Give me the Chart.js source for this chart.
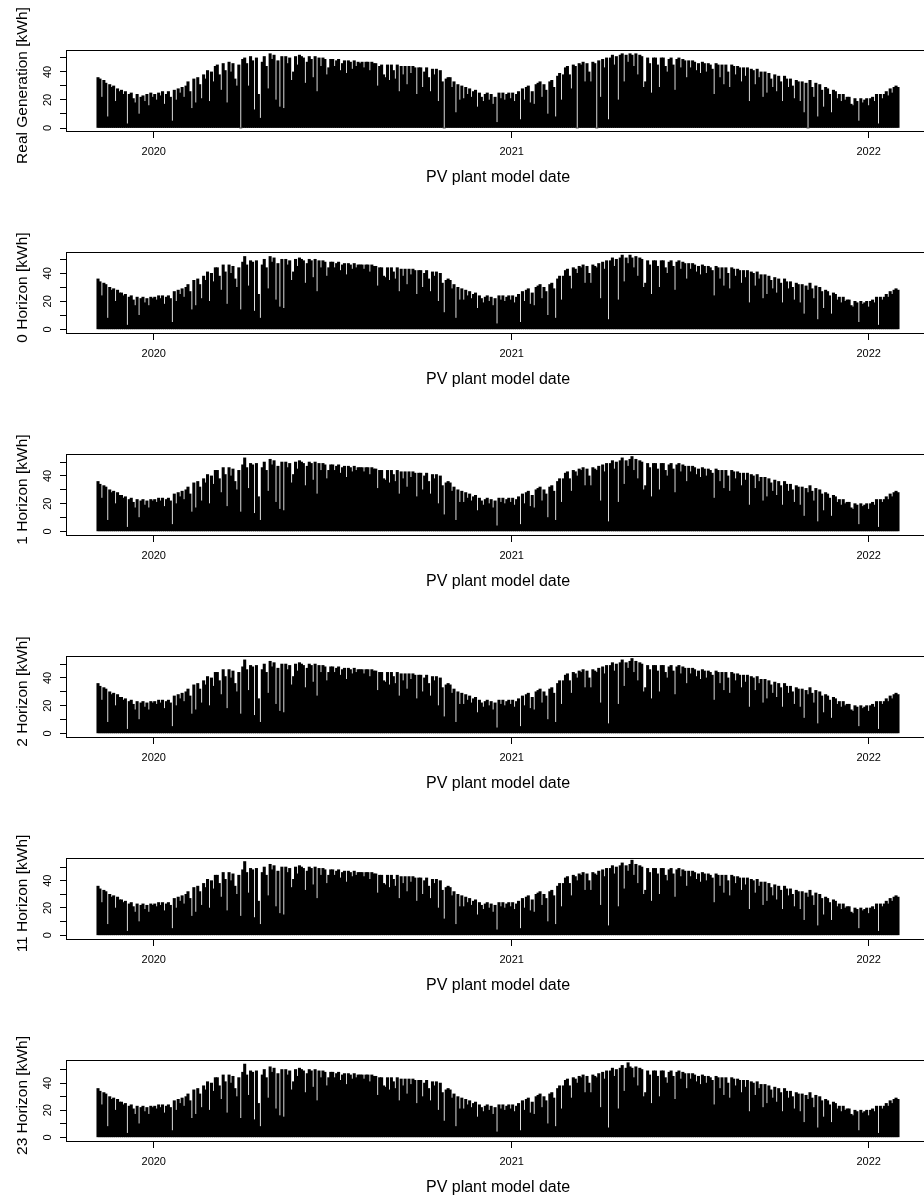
<!DOCTYPE html>
<html>
<head>
<meta charset="utf-8">
<title>PV plant model</title>
<script src="https://cdn.jsdelivr.net/npm/chart.js@4.4.1/dist/chart.umd.min.js"></script>
<style>
  html, body { margin: 0; padding: 0; background: #fff; overflow: hidden; }
  .panel { width: 924px; height: 202px; overflow: hidden; }
  canvas { display: block; }
</style>
</head>
<body>
<div id="panels"></div>
<script>
// one value every 2 days, first one on 2019-11-05 (days counted from 2020-01-01)
const firstDay = -57;
const stepDays = 2;
const yearTicks = [0, 366, 731];
const yearLabels = ['2020', '2021', '2022'];
const yTicks = [0, 10, 20, 30, 40, 50];
const yLabelled = [0, 20, 40];
const xTitle = 'PV plant model date';

// daily energy [kWh], one line ~ one month
const realGeneration = [
  36,35,22,34,32,8,31,29,30,19,28,26,27,24,26,
  3,24,25,21,18,24,10,22,23,19,24,16,25,22,24,
  20,25,23,26,17,24,26,22,5,27,20,28,25,29,22,
  30,33,26,14,35,18,36,31,21,38,35,41,19,40,33,
  44,45,38,27,46,41,18,47,40,46,35,30,45,0,49,
  50,46,30,51,48,13,50,24,7,47,51,44,28,53,49,
  52,20,48,15,51,14,51,46,50,34,40,51,45,52,51,
  50,32,47,51,49,36,51,26,50,44,50,49,38,43,49,
  49,44,48,49,41,46,48,39,48,47,42,48,44,47,46,
  47,43,47,47,41,47,46,46,30,44,45,38,36,45,34,
  45,41,35,45,26,44,38,44,31,44,39,44,43,24,43,
  43,29,40,43,36,26,42,38,42,19,41,33,0,35,36,
  36,29,33,11,31,20,30,21,29,24,28,22,26,27,15,
  25,22,19,24,25,20,24,17,22,4,25,21,25,20,24,
  25,21,25,19,24,26,6,28,20,29,30,18,26,17,31,
  32,33,22,31,27,10,33,34,29,8,37,39,20,38,43,
  44,38,28,45,44,0,46,45,47,33,46,40,33,47,46,
  0,48,22,49,43,50,6,50,52,45,51,20,52,53,33,
  52,47,53,52,44,53,38,52,51,29,33,50,46,25,50,
  50,45,29,50,50,44,40,49,50,45,27,49,50,43,49,
  48,36,48,43,48,47,41,46,39,47,46,40,46,45,42,
  24,46,45,36,45,31,45,40,29,45,44,38,44,43,33,
  43,37,43,19,42,41,31,42,36,40,22,40,25,39,35,
  29,38,26,37,33,19,37,35,29,35,30,21,34,33,19,
  33,11,32,0,34,29,22,32,8,31,27,15,29,28,24,
  11,27,26,21,24,19,24,20,22,22,17,16,21,19,5,
  21,18,20,21,16,21,22,19,24,3,24,21,24,26,23,
  28,25,29,30,29
];

const horizon0 = [
  36,34,24,33,32,8,30,28,29,20,28,26,26,24,25,
  3,23,24,21,17,23,10,22,23,19,22,17,23,22,23,
  21,24,22,24,18,23,24,22,5,27,20,28,25,29,23,
  30,32,27,14,35,17,36,32,22,38,35,41,20,40,34,
  44,44,38,28,46,41,18,46,40,45,36,30,44,14,48,
  52,46,31,49,48,13,49,25,8,46,50,44,29,52,48,
  51,21,47,16,50,15,50,46,49,35,41,50,45,51,50,
  49,33,47,50,49,37,50,27,49,44,49,48,38,44,48,
  48,44,47,48,42,46,47,39,47,46,43,47,44,46,46,
  46,43,46,46,41,46,45,45,31,44,44,38,37,44,35,
  44,41,36,44,27,43,38,43,32,43,39,43,42,25,42,
  42,30,40,42,36,27,41,38,41,20,40,33,12,35,36,
  35,29,32,8,30,21,29,21,28,24,27,22,25,26,15,
  24,22,19,23,24,20,23,17,22,4,24,21,24,20,23,
  24,21,24,19,23,25,5,27,20,28,29,18,26,17,30,
  31,32,22,30,27,10,32,33,29,8,36,38,21,38,42,
  43,38,29,44,43,40,45,44,46,33,45,40,33,46,45,
  44,47,22,48,43,49,7,49,51,45,50,21,51,53,34,
  51,47,53,51,44,52,38,51,50,30,33,49,46,25,49,
  49,45,30,49,49,44,40,48,49,45,28,48,49,43,48,
  47,36,47,43,47,46,41,45,39,46,45,40,45,44,42,
  24,45,44,36,44,31,44,40,29,44,43,38,43,42,33,
  42,37,42,19,41,40,31,41,36,39,22,39,25,38,35,
  29,37,26,36,33,19,36,34,29,34,30,21,33,32,19,
  32,11,31,28,33,29,22,31,7,30,27,15,28,27,24,
  11,26,25,21,23,19,23,20,21,21,17,16,20,19,5,
  20,18,19,20,16,20,21,19,23,3,23,21,23,25,23,
  27,25,28,29,28
];

const horizon1 = [
  36,34,24,33,32,8,30,28,29,20,28,26,26,24,25,
  3,23,24,21,17,23,10,22,23,19,22,17,23,22,23,
  21,24,22,24,18,23,24,22,5,27,20,28,25,29,23,
  30,32,27,14,35,17,36,32,22,38,35,41,20,40,34,
  44,44,38,28,46,41,18,46,40,45,36,30,44,14,48,
  53,46,31,49,48,13,49,25,8,46,50,44,29,52,48,
  51,21,47,16,50,15,50,46,49,35,41,50,45,51,50,
  49,33,47,50,49,37,50,27,49,44,49,48,38,44,48,
  48,44,47,48,42,46,47,39,47,46,43,47,44,46,46,
  46,43,46,46,41,46,45,45,31,44,44,38,37,44,35,
  44,41,36,44,27,43,38,43,32,43,39,43,42,25,42,
  42,30,40,42,36,27,41,38,41,20,40,33,12,35,36,
  35,29,32,8,30,21,29,21,28,24,27,22,25,26,15,
  24,22,19,23,24,20,23,17,22,4,24,21,24,20,23,
  24,21,24,19,23,25,5,27,20,28,29,18,26,17,30,
  31,32,22,30,27,10,32,33,29,8,36,38,21,38,42,
  43,38,29,44,43,40,45,44,46,33,45,40,33,46,45,
  44,47,22,48,43,49,7,49,51,45,50,21,51,53,34,
  51,47,52,54,44,52,38,51,50,30,33,49,46,25,49,
  49,45,30,49,49,44,40,48,49,45,28,48,49,43,48,
  47,36,47,43,47,46,41,45,39,46,45,40,45,44,42,
  24,45,44,36,44,31,44,40,29,44,43,38,43,42,33,
  42,37,42,19,41,40,31,41,36,39,22,39,25,38,35,
  29,37,26,36,33,19,36,34,29,34,30,21,33,32,19,
  32,11,31,28,33,29,22,31,7,30,27,15,28,27,24,
  11,26,25,21,23,19,23,20,21,21,17,16,20,19,5,
  20,18,19,20,16,20,21,19,23,3,23,21,23,25,23,
  27,25,28,29,28
];

const horizon2 = [
  36,34,24,33,32,8,30,28,29,20,28,26,26,24,25,
  3,23,24,21,17,23,10,22,23,19,22,17,23,22,23,
  21,24,22,24,18,23,24,22,5,27,20,28,25,29,23,
  30,32,27,14,35,17,36,32,22,38,35,41,20,40,34,
  44,44,38,28,46,41,18,46,40,45,36,30,44,14,48,
  53,46,31,49,48,13,49,25,8,46,50,44,29,52,48,
  51,21,47,16,50,15,50,46,49,35,41,50,45,51,50,
  49,33,47,50,49,37,50,27,49,44,49,48,38,44,48,
  48,44,47,48,42,46,47,39,47,46,43,47,44,46,46,
  46,43,46,46,41,46,45,45,31,44,44,38,37,44,35,
  44,41,36,44,27,43,38,43,32,43,39,43,42,25,42,
  42,30,40,42,36,27,41,38,41,20,40,33,12,35,36,
  35,29,32,8,30,21,29,21,28,24,27,22,25,26,15,
  24,22,19,23,24,20,23,17,22,4,24,21,24,20,23,
  24,21,24,19,23,25,5,27,20,28,29,18,26,17,30,
  31,32,22,30,27,10,32,33,29,8,36,38,21,38,42,
  43,38,29,44,43,40,45,44,46,33,45,40,33,46,45,
  44,47,22,48,43,49,7,49,51,45,50,21,51,53,34,
  51,47,52,54,44,52,38,51,50,30,33,49,46,25,49,
  49,45,30,49,49,44,40,48,49,45,28,48,49,43,48,
  47,36,47,43,47,46,41,45,39,46,45,40,45,44,42,
  24,45,44,36,44,31,44,40,29,44,43,38,43,42,33,
  42,37,42,19,41,40,31,41,36,39,22,39,25,38,35,
  29,37,26,36,33,19,36,34,29,34,30,21,33,32,19,
  32,11,31,28,33,29,22,31,7,30,27,15,28,27,24,
  11,26,25,21,23,19,23,20,21,21,17,16,20,19,5,
  20,18,19,20,16,20,21,19,23,3,23,21,23,25,23,
  27,25,28,29,28
];

const horizon11 = [
  36,34,24,33,32,8,30,28,29,20,28,26,26,24,25,
  3,23,24,21,17,23,10,22,23,19,22,17,23,22,23,
  21,24,22,24,18,23,24,22,5,27,20,28,25,29,23,
  30,32,27,14,35,17,36,32,22,38,35,41,20,40,34,
  44,44,38,28,46,41,18,46,40,45,36,30,44,14,48,
  54,46,31,49,48,13,49,25,8,46,50,44,29,52,48,
  51,21,47,16,50,15,50,46,49,35,41,50,45,51,50,
  49,33,47,50,49,37,50,27,49,44,49,48,38,44,48,
  48,44,47,48,42,46,47,39,47,46,43,47,44,46,46,
  46,43,46,46,41,46,45,45,31,44,44,38,37,44,35,
  44,41,36,44,27,43,38,43,32,43,39,43,42,25,42,
  42,30,40,42,36,27,41,38,41,20,40,33,12,35,36,
  35,29,32,8,30,21,29,21,28,24,27,22,25,26,15,
  24,22,19,23,24,20,23,17,22,4,24,21,24,20,23,
  24,21,24,19,23,25,5,27,20,28,29,18,26,17,30,
  31,32,22,30,27,10,32,33,29,8,36,38,21,38,42,
  43,38,29,44,43,40,45,44,46,33,45,40,33,46,45,
  44,47,22,48,43,49,7,49,51,45,50,21,51,53,34,
  51,47,52,55,44,52,38,51,50,30,33,49,46,25,49,
  49,45,30,49,49,44,40,48,49,45,28,48,49,43,48,
  47,36,47,43,47,46,41,45,39,46,45,40,45,44,42,
  24,45,44,36,44,31,44,40,29,44,43,38,43,42,33,
  42,37,42,19,41,40,31,41,36,39,22,39,25,38,35,
  29,37,26,36,33,19,36,34,29,34,30,21,33,32,19,
  32,11,31,28,33,29,22,31,7,30,27,15,28,27,24,
  11,26,25,21,23,19,23,20,21,21,17,16,20,19,5,
  20,18,19,20,16,20,21,19,23,3,23,21,23,25,23,
  27,25,28,29,28
];

const horizon23 = [
  36,34,24,33,32,8,30,28,29,20,28,26,26,24,25,
  3,23,24,21,17,23,10,22,23,19,22,17,23,22,23,
  21,24,22,24,18,23,24,22,5,27,20,28,25,29,23,
  30,32,27,14,35,17,36,32,22,38,35,41,20,40,34,
  44,44,38,28,46,41,18,46,40,45,36,30,44,14,48,
  54,46,31,49,48,13,49,25,8,46,50,44,29,52,48,
  51,21,47,16,50,15,50,46,49,35,41,50,45,51,50,
  49,33,47,50,49,37,50,27,49,44,49,48,38,44,48,
  48,44,47,48,42,46,47,39,47,46,43,47,44,46,46,
  46,43,46,46,41,46,45,45,31,44,44,38,37,44,35,
  44,41,36,44,27,43,38,43,32,43,39,43,42,25,42,
  42,30,40,42,36,27,41,38,41,20,40,33,12,35,36,
  35,29,32,8,30,21,29,21,28,24,27,22,25,26,15,
  24,22,19,23,24,20,23,17,22,4,24,21,24,20,23,
  24,21,24,19,23,25,5,27,20,28,29,18,26,17,30,
  31,32,22,30,27,10,32,33,29,8,36,38,21,38,42,
  43,38,29,44,43,40,45,44,46,33,45,40,33,46,45,
  44,47,22,48,43,49,7,49,51,45,50,21,51,53,34,
  51,55,52,51,44,52,38,51,50,30,33,49,46,25,49,
  49,45,30,49,49,44,40,48,49,45,28,48,49,43,48,
  47,36,47,43,47,46,41,45,39,46,45,40,45,44,42,
  24,45,44,36,44,31,44,40,29,44,43,38,43,42,33,
  42,37,42,19,41,40,31,41,36,39,22,39,25,38,35,
  29,37,26,36,33,19,36,34,29,34,30,21,33,32,19,
  32,11,31,28,33,29,22,31,7,30,27,15,28,27,24,
  11,26,25,21,23,19,23,20,21,21,17,16,20,19,5,
  20,18,19,20,16,20,21,19,23,3,23,21,23,25,23,
  27,25,28,29,28
];

const panels = [
  { title: 'Real Generation [kWh]', values: realGeneration, yRange: [-2.14, 55.64] },
  { title: '0 Horizon [kWh]', values: horizon0, yRange: [-2.6, 55.2] },
  { title: '1 Horizon [kWh]', values: horizon1, yRange: [-2.6, 55.8] },
  { title: '2 Horizon [kWh]', values: horizon2, yRange: [-2.6, 55.8] },
  { title: '11 Horizon [kWh]', values: horizon11, yRange: [-2.7, 56.6] },
  { title: '23 Horizon [kWh]', values: horizon23, yRange: [-2.7, 57] }
];

const fontFamily = '"Liberation Sans", Arial, Helvetica, sans-serif';
Chart.defaults.font.family = fontFamily;
Chart.defaults.color = '#000';

const W = 940, H = 202;
const boxLeft = 66, boxRight = 930, boxTop = 50, boxBottom = 131;

// R style box, rotated y tick labels and the y axis title
const rAxes = {
  id: 'rAxes',
  afterDraw(chart, args, opts) {
    const { ctx, chartArea: a } = chart;
    const y = chart.scales.y;
    ctx.save();
    ctx.strokeStyle = '#000';
    ctx.lineWidth = 1;
    ctx.strokeRect(Math.round(a.left) + 0.5, Math.round(a.top) + 0.5,
      Math.round(a.right - a.left), Math.round(a.bottom - a.top));
    ctx.fillStyle = '#000';
    ctx.textAlign = 'center';
    ctx.textBaseline = 'middle';
    ctx.font = '11px ' + fontFamily;
    yLabelled.forEach(v => {
      ctx.save();
      ctx.translate(a.left - 18, y.getPixelForValue(v));
      ctx.rotate(-Math.PI / 2);
      ctx.fillText(String(v), 0, 0);
      ctx.restore();
    });
    ctx.font = '15.5px ' + fontFamily;
    ctx.translate(23, (a.top + a.bottom) / 2 - 5);
    ctx.rotate(-Math.PI / 2);
    ctx.fillText(opts.title, 0, 0);
    ctx.restore();
  }
};

const span = (horizon0.length - 1) * stepDays;
const xMin = firstDay - 0.04 * span;
const xMax = firstDay + span + 0.04 * span;

const holder = document.getElementById('panels');
panels.forEach(p => {
  const div = document.createElement('div');
  div.className = 'panel';
  const canvas = document.createElement('canvas');
  canvas.width = W;
  canvas.height = H;
  div.appendChild(canvas);
  holder.appendChild(div);

  const points = p.values.map((v, i) => ({ x: firstDay + i * stepDays, y: v }));

  new Chart(canvas, {
    type: 'bar',
    data: {
      datasets: [{
        data: points,
        backgroundColor: '#000',
        borderWidth: 0,
        barThickness: 2.4
      }]
    },
    options: {
      responsive: false,
      animation: false,
      events: [],
      layout: { padding: { top: boxTop, right: W - boxRight, left: 0, bottom: 0 } },
      plugins: {
        legend: { display: false },
        tooltip: { enabled: false },
        rAxes: { title: p.title }
      },
      scales: {
        x: {
          type: 'linear',
          min: xMin,
          max: xMax,
          offset: false,
          afterBuildTicks: s => { s.ticks = yearTicks.map(v => ({ value: v })); },
          afterFit: s => { s.height = H - boxBottom; },
          grid: { offset: false, drawOnChartArea: false, drawTicks: true, tickLength: 7, color: '#000' },
          border: { display: false },
          ticks: {
            autoSkip: false,
            maxRotation: 0,
            padding: 7,
            font: { size: 11 },
            callback: v => yearLabels[yearTicks.indexOf(v)]
          },
          title: { display: true, text: xTitle, font: { size: 16 }, padding: { top: 0, bottom: 15 } }
        },
        y: {
          min: p.yRange[0],
          max: p.yRange[1],
          afterBuildTicks: s => { s.ticks = yTicks.map(v => ({ value: v })); },
          afterFit: s => { s.width = boxLeft; },
          grid: { drawOnChartArea: false, drawTicks: true, tickLength: 6, color: '#000' },
          border: { display: false },
          ticks: { display: false }
        }
      }
    },
    plugins: [rAxes]
  });
});
</script>
</body>
</html>
